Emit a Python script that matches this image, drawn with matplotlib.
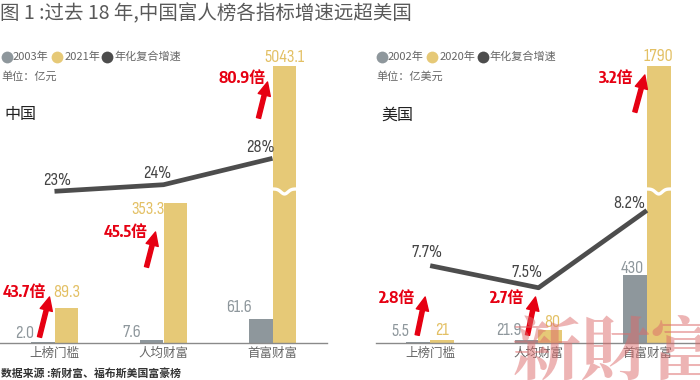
import numpy as np
import matplotlib
matplotlib.use("Agg")
import matplotlib.pyplot as plt
import matplotlib.transforms as mtransforms

plt.rcParams['font.family'] = ['Noto Sans CJK SC', 'DejaVu Sans']

# ---- data ----
categories = ["上榜门槛", "人均财富", "首富财富"]

cn_years = ["2003年", "2021年", "年化复合增速"]
cn_start = [2.0, 7.6, 61.6]
cn_end = [89.3, 353.3, 5043.1]
cn_cagr = [23, 24, 28]
cn_mult = [43.7, 45.5, 80.9]

us_years = ["2002年", "2020年", "年化复合增速"]
us_start = [5.5, 21.9, 430]
us_end = [21, 80, 1790]
us_cagr = [7.7, 7.5, 8.2]
us_mult = [2.8, 2.7, 3.2]

GRAY = "#8e979c"
GOLD = "#e6c977"
DARK = "#4d4d4d"
RED = "#e60012"
NUM_FONT = ["Sofia Sans Condensed", "Noto Sans CJK SC", "DejaVu Sans"]
BOLD_FONT = ["Encode Sans Condensed", "Encode Sans Semi Condensed", "Noto Sans CJK SC"]

W, H = 700, 380
fig = plt.figure(figsize=(W / 100, H / 100), dpi=100)


def px_rect(x0, y0, x1, y1):
    # pixel box (top-left origin) -> figure fraction
    return [x0 / W, 1 - y1 / H, (x1 - x0) / W, (y1 - y0) / H]


def shift(ax, dx, dy):
    return ax.transData + mtransforms.ScaledTranslation(dx / 100, dy / 100, fig.dpi_scale_trans)


def panel(rect, start, end, cagr, mult, ymax, cagr_lim, fmt,
          start_off, end_off, cagr_off, arrow_off, mult_off):
    ax = fig.add_axes(rect)
    x = np.arange(len(categories))
    bw = 0.22
    ax.bar(x - bw / 2, start, bw, color=GRAY, zorder=2)
    ax.bar(x + bw / 2, end, bw, color=GOLD, zorder=2)
    ax.set_xlim(-0.5, 2.5)
    ax.set_ylim(0, ymax)
    for s in ["top", "right", "left"]:
        ax.spines[s].set_visible(False)
    ax.spines["bottom"].set_color("#8a8a8a")
    ax.spines["bottom"].set_linewidth(1.0)
    ax.set_yticks([])
    ax.set_xticks(x, categories, fontsize=9, color="#666666")
    ax.tick_params(axis="x", length=0, pad=3)

    # value labels
    for i in range(len(x)):
        ax.annotate(fmt.format(start[i]), (x[i] - bw / 2, min(start[i], ymax)),
                    xytext=start_off[i], textcoords="offset pixels",
                    ha="center", va="center", fontsize=13, color="#8e979c",
                    family=NUM_FONT)
        ax.annotate(fmt.format(end[i]), (x[i] + bw / 2, min(end[i], ymax)),
                    xytext=end_off[i], textcoords="offset pixels",
                    ha="center", va="center", fontsize=13, color="#e3c064",
                    family=NUM_FONT)
        # broken bar
        if end[i] > ymax:
            xs = np.linspace(x[i] - 0.02, x[i] + bw + 0.02, 40)
            ys = 0.556 - 0.018 * np.exp(-((xs - (x[i] + bw / 2)) / 0.045) ** 2)
            ax.plot(xs, ys, color="white", lw=2.4, transform=ax.get_xaxis_transform(),
                    zorder=3, solid_capstyle="butt")

    # growth multiple arrows
    for i in range(len(x)):
        (hx, hy), (tx, ty) = arrow_off[i]
        ax.annotate("", xy=(x[i], 0), xycoords=shift(ax, hx, hy),
                    xytext=(x[i], 0), textcoords=shift(ax, tx, ty),
                    arrowprops=dict(arrowstyle="simple,head_width=0.75,head_length=0.8,tail_width=0.25",
                                    color=RED, mutation_scale=12, shrinkA=0, shrinkB=0),
                    zorder=4)
        ax.annotate(f"{mult[i]:.1f}倍", (x[i], 0), xytext=mult_off[i],
                    textcoords="offset pixels", ha="center", va="center",
                    fontsize=11.5, color=RED, weight="bold", family=BOLD_FONT)

    # compound growth line
    ax2 = ax.twinx()
    ax2.set_ylim(*cagr_lim)
    ax2.plot(x, cagr, color=DARK, lw=3.4, solid_capstyle="butt", zorder=5)
    ax2.set_yticks([])
    for s in ax2.spines.values():
        s.set_visible(False)
    for i in range(len(x)):
        ax2.annotate(f"{cagr[i]:g}%", (x[i], cagr[i]), xytext=cagr_off[i],
                     textcoords="offset pixels", ha="center", va="center",
                     fontsize=13, color="#444444", family=NUM_FONT, weight="medium")
    return ax


# China panel
panel(px_rect(0, 66, 327, 343), cn_start, cn_end, cn_cagr, cn_mult,
      700, (0, 42), "{:.1f}",
      start_off=[(-18, 9), (-20, 7), (-22, 11)],
      end_off=[(0, 15), (-28, -6), (0, 9)],
      cagr_off=[(3, 11), (-6, 11), (-12, 11)],
      arrow_off=[((-5, 46), (-15, 6)), ((-8, 111), (-17, 76)), ((-5, 261), (-14, 225))],
      mult_off=[(-30, 50), (-38, 110), (-30, 265)])

# US panel
panel(px_rect(376, 66, 701, 343), us_start, us_end, us_cagr, us_mult,
      1750, (7.0, 9.507), "{:g}",
      start_off=[(-18, 11), (-18, 9), (-3, 6)],
      end_off=[(0, 9), (2, 8), (0, 9)],
      cagr_off=[(-3, 13), (-12, 15), (-18, 7)],
      arrow_off=[((-5, 46), (-13, 8)), ((-3, 46), (-11, 8)), ((-2, 268), (-12, 231))],
      mult_off=[(-33, 45), (-31, 45), (-31, 265)])

# ---- overlay for titles, legends, notes ----
bg = fig.add_axes([0, 0, 1, 1], zorder=10)
bg.set_xlim(0, W)
bg.set_ylim(H, 0)
bg.axis("off")

bg.text(0, 14, "图 1 :过去 18 年,中国富人榜各指标增速远超美国", fontsize=14,
        color="#595959", va="center", weight="light")

legend_colors = [GRAY, GOLD, DARK]
for names, dot_x, txt_x, unit, unit_x, region, reg_x in [
        (cn_years, [7, 57, 107], [13, 65, 114], "单位：亿元", 1, "中国", 4),
        (us_years, [382, 432, 483], [388, 440, 489], "单位：亿美元", 376, "美国", 381)]:
    for name, dx, tx, c in zip(names, dot_x, txt_x, legend_colors):
        bg.plot(dx, 57, "o", ms=8.5, color=c, mec="none")
        bg.text(tx, 57, name, fontsize=8, color="#666666", va="center")
    bg.text(unit_x, 76, unit, fontsize=8, color="#666666", va="center")
    bg.text(reg_x, 115, region, fontsize=11.5, color="#222222", va="center")

bg.text(1, 374, "数据来源 :新财富、福布斯美国富豪榜", fontsize=7.8, weight="bold",
        color="#333333", va="center")

bg.text(511, 318, "新財富", fontsize=50, color="#dc6a6a", alpha=0.5, va="top",
        weight="bold",
        family=["Noto Serif CJK TC", "Noto Serif CJK SC", "Noto Sans CJK TC"])

fig.savefig("out.png", dpi=100)
